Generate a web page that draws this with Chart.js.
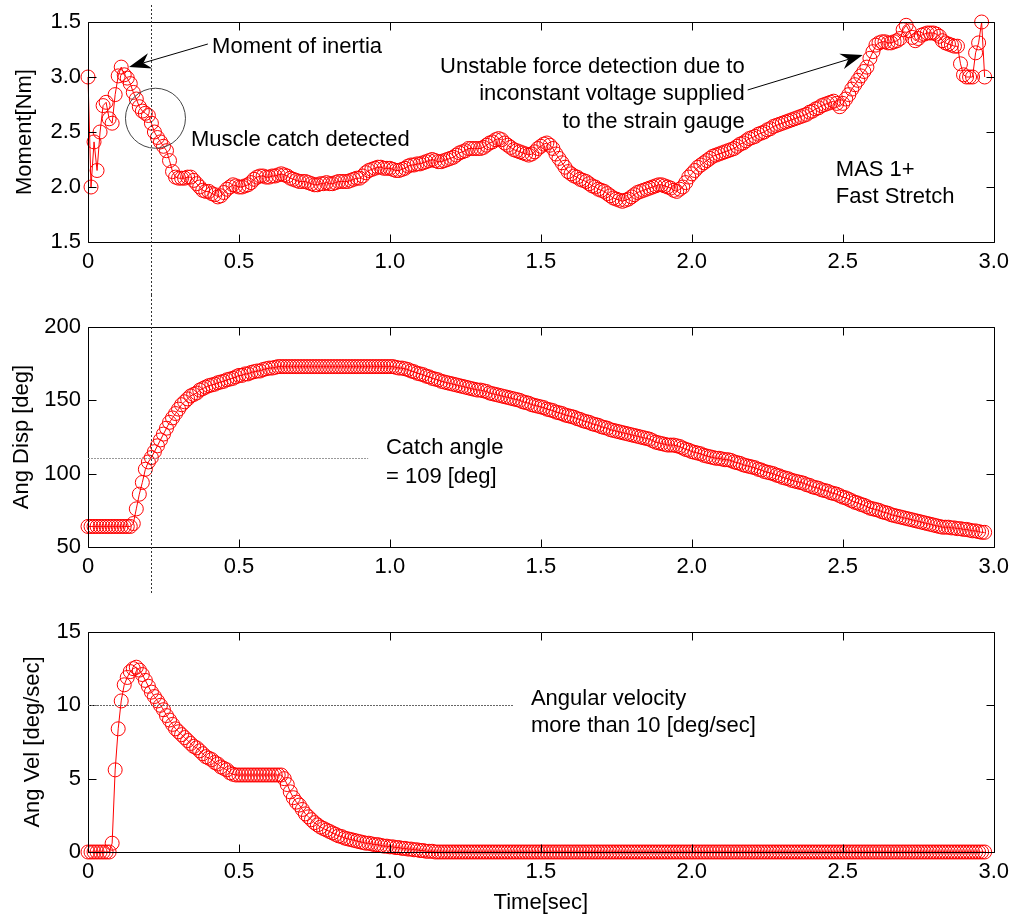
<!DOCTYPE html>
<html>
<head>
<meta charset="utf-8">
<script src="https://cdn.jsdelivr.net/npm/chart.js@4.4.0/dist/chart.umd.min.js"></script>
<style>
  body { margin: 0; background: #fff; }
  #wrap { position: relative; width: 1016px; height: 917px; }
  canvas { position: absolute; left: 0; }
</style>
</head>
<body>
<div id="wrap">
  <canvas id="plotMoment" width="1016" height="295" style="top:0"></canvas>
  <canvas id="plotDisp" width="1016" height="305" style="top:295px"></canvas>
  <canvas id="plotVel" width="1016" height="317" style="top:600px"></canvas>
</div>
<script>
// Datos
const sampleStep = 0.01; // intervalo de amostragem [sec]
const timeTicks = [0, 0.5, 1.0, 1.5, 2.0, 2.5, 3.0];
const momentTicks = [1.5, 2.0, 2.5, 3.0, 3.5];
const momentTickLabels = ['1.5', '2.0', '2.5', '3.0', '1.5']; // como impresso no original
const dispTicks = [50, 100, 150, 200];
const velTicks = [0, 5, 10, 15];

const moment = [
  3.00, 2.00, 2.41, 2.15, 2.50, 2.74, 2.77, 2.62, 2.58, 2.84,
  3.01, 3.09, 3.02, 2.99, 2.94, 2.86, 2.80, 2.73, 2.69, 2.67,
  2.65, 2.58, 2.50, 2.45, 2.41, 2.37, 2.33, 2.24, 2.14, 2.09,
  2.08, 2.08, 2.08, 2.09, 2.09, 2.06, 2.03, 2.00, 1.97, 1.96,
  1.96, 1.94, 1.93, 1.91, 1.92, 1.95, 1.98, 2.00, 2.02, 2.01,
  2.00, 2.00, 2.01, 2.02, 2.04, 2.07, 2.09, 2.10, 2.10, 2.09,
  2.09, 2.10, 2.10, 2.11, 2.12, 2.11, 2.10, 2.08, 2.07, 2.06,
  2.05, 2.05, 2.05, 2.04, 2.03, 2.02, 2.02, 2.03, 2.03, 2.04,
  2.03, 2.03, 2.04, 2.05, 2.05, 2.05, 2.05, 2.06, 2.07, 2.08,
  2.08, 2.10, 2.13, 2.15, 2.16, 2.17, 2.18, 2.18, 2.17, 2.17,
  2.17, 2.16, 2.15, 2.15, 2.16, 2.17, 2.19, 2.20, 2.20, 2.21,
  2.21, 2.22, 2.23, 2.24, 2.25, 2.24, 2.23, 2.23, 2.24, 2.25,
  2.26, 2.27, 2.29, 2.31, 2.32, 2.33, 2.35, 2.35, 2.35, 2.35,
  2.35, 2.36, 2.38, 2.40, 2.41, 2.43, 2.44, 2.43, 2.40, 2.38,
  2.36, 2.34, 2.33, 2.32, 2.31, 2.30, 2.29, 2.30, 2.32, 2.35,
  2.37, 2.39, 2.40, 2.38, 2.35, 2.30, 2.26, 2.22, 2.18, 2.14,
  2.12, 2.10, 2.09, 2.07, 2.06, 2.05, 2.03, 2.01, 2.00, 1.98,
  1.97, 1.96, 1.94, 1.92, 1.90, 1.89, 1.88, 1.87, 1.88, 1.89,
  1.91, 1.93, 1.95, 1.96, 1.97, 1.98, 1.99, 2.00, 2.01, 2.02,
  2.02, 2.01, 2.00, 1.99, 1.97, 1.96, 1.98, 2.00, 2.04, 2.09,
  2.12, 2.15, 2.18, 2.20, 2.22, 2.24, 2.26, 2.28, 2.29, 2.30,
  2.31, 2.32, 2.33, 2.34, 2.35, 2.37, 2.39, 2.40, 2.42, 2.44,
  2.45, 2.46, 2.48, 2.49, 2.50, 2.52, 2.53, 2.55, 2.56, 2.57,
  2.58, 2.59, 2.60, 2.61, 2.62, 2.63, 2.64, 2.65, 2.66, 2.68,
  2.69, 2.71, 2.72, 2.74, 2.75, 2.76, 2.77, 2.78, 2.76, 2.73,
  2.76, 2.80, 2.84, 2.89, 2.93, 2.97, 3.01, 3.05, 3.09, 3.17,
  3.23, 3.29, 3.31, 3.32, 3.32, 3.31, 3.31, 3.32, 3.33, 3.35,
  3.43, 3.47, 3.42, 3.36, 3.33, 3.35, 3.38, 3.39, 3.40, 3.40,
  3.40, 3.39, 3.37, 3.33, 3.31, 3.30, 3.29, 3.28, 3.28, 3.12,
  3.02, 3.00, 3.00, 3.00, 3.22, 3.31, 3.50, 3.00
];

const angDisp = [
  64, 64, 64, 64, 64, 64, 64, 64, 64, 64,
  64, 64, 64, 64, 64, 66, 76, 86, 94, 103,
  108, 111, 115, 119, 123, 127, 131, 135, 138, 141,
  144, 147, 149, 151, 153, 154, 155, 157, 158, 159,
  160, 160.5, 161, 162, 162.5, 163, 164, 164.5, 165, 166,
  167, 167, 168, 168, 169, 169.5, 170, 170, 171, 171.5,
  172, 172, 172.5, 173, 173, 173, 173, 173, 173, 173,
  173, 173, 173, 173, 173, 173, 173, 173, 173, 173,
  173, 173, 173, 173, 173, 173, 173, 173, 173, 173,
  173, 173, 173, 173, 173, 173, 173, 173, 173, 173,
  173, 173, 172.5, 172, 172, 171.5, 171, 170, 169.5, 168.5,
  168, 167.5, 166.5, 166, 165, 164.5, 164, 163, 162.5, 162,
  161.5, 161, 160.5, 160, 159.5, 159, 158.5, 158, 157.5, 157,
  157, 156.5, 156, 155, 154.5, 154, 153.5, 153, 152.5, 152,
  151.5, 151, 150.5, 150, 149, 148.5, 148, 147, 146.5, 146,
  145.5, 145, 144, 143.5, 143, 142, 141.5, 141, 140, 139.5,
  139, 138.5, 137.5, 137, 136, 135.5, 135, 134, 133.5, 133,
  132, 131.5, 131, 130, 129.5, 129, 128.5, 128, 127.5, 127,
  126.5, 126, 125.5, 125, 124.5, 124, 123.5, 122.5, 121.5, 121,
  120.5, 120, 119.5, 119.5, 119.5, 119, 118.5, 117.5, 116.5, 116,
  115, 114.5, 114, 113.5, 112.5, 112, 111.5, 111, 110.5, 110.5,
  110, 109.5, 109.5, 109, 108, 107.5, 107, 106, 105.5, 105,
  104.5, 104, 103, 102.5, 101.5, 101, 100.5, 100, 99, 98.5,
  97.5, 97, 96.5, 95.5, 95, 94.5, 94, 93.5, 92.5, 92,
  91, 90.5, 90, 89, 88.5, 88, 87, 86.5, 86, 85,
  84, 83.5, 82.5, 81.5, 80.5, 80, 79, 78.5, 77.5, 76.5,
  76, 75.5, 75, 74, 73.5, 73, 72, 71.5, 71, 70.5,
  70, 69.5, 69, 68.5, 68, 67.5, 67, 66.5, 66, 65.5,
  65, 64.5, 64, 63.5, 63.5, 63.5, 63, 63, 62.5, 62.5,
  62, 62, 61.5, 61, 61, 60.5, 60, 60
];

const angVel = [
  0, 0, 0, 0, 0, 0, 0, 0, 0.6, 5.6,
  8.4, 10.3, 11.4, 11.9, 12.3, 12.5, 12.6, 12.4, 12.1, 11.7,
  11.3, 10.9, 10.6, 10.3, 10.0, 9.7, 9.3, 9.0, 8.7, 8.4,
  8.2, 8.0, 7.8, 7.6, 7.4, 7.2, 7.1, 6.9, 6.7, 6.5,
  6.4, 6.3, 6.1, 6.0, 5.8, 5.7, 5.6, 5.4, 5.3, 5.25,
  5.25, 5.25, 5.25, 5.25, 5.25, 5.25, 5.25, 5.25, 5.25, 5.25,
  5.25, 5.25, 5.25, 5.25, 5.25, 5.0, 4.6, 4.1, 3.7, 3.4,
  3.2, 2.9, 2.6, 2.4, 2.2, 2.0, 1.85, 1.7, 1.6, 1.5,
  1.4, 1.3, 1.2, 1.1, 1.05, 0.95, 0.9, 0.85, 0.8, 0.75,
  0.7, 0.65, 0.6, 0.6, 0.55, 0.5, 0.5, 0.45, 0.4, 0.4,
  0.35, 0.35, 0.3, 0.3, 0.25, 0.25, 0.2, 0.2, 0.15, 0.15,
  0.1, 0.1, 0.05, 0.05, 0.05, 0, 0, 0, 0, 0,
  0, 0, 0, 0, 0, 0, 0, 0, 0, 0,
  0, 0, 0, 0, 0, 0, 0, 0, 0, 0,
  0, 0, 0, 0, 0, 0, 0, 0, 0, 0,
  0, 0, 0, 0, 0, 0, 0, 0, 0, 0,
  0, 0, 0, 0, 0, 0, 0, 0, 0, 0,
  0, 0, 0, 0, 0, 0, 0, 0, 0, 0,
  0, 0, 0, 0, 0, 0, 0, 0, 0, 0,
  0, 0, 0, 0, 0, 0, 0, 0, 0, 0,
  0, 0, 0, 0, 0, 0, 0, 0, 0, 0,
  0, 0, 0, 0, 0, 0, 0, 0, 0, 0,
  0, 0, 0, 0, 0, 0, 0, 0, 0, 0,
  0, 0, 0, 0, 0, 0, 0, 0, 0, 0,
  0, 0, 0, 0, 0, 0, 0, 0, 0, 0,
  0, 0, 0, 0, 0, 0, 0, 0, 0, 0,
  0, 0, 0, 0, 0, 0, 0, 0, 0, 0,
  0, 0, 0, 0, 0, 0, 0, 0, 0, 0,
  0, 0, 0, 0, 0, 0, 0, 0, 0, 0,
  0, 0, 0, 0, 0, 0, 0, 0
];

const time = moment.map((_, i) => +(i * sampleStep).toFixed(2));

const FAMILY = "'Liberation Sans', Arial, sans-serif";
const FONT = '22px ' + FAMILY;
Chart.defaults.font.family = FAMILY;
Chart.defaults.font.size = 22;
Chart.defaults.color = '#000';

// Caixa dos eixos com ticks para dentro (estilo MATLAB)
const axesBox = {
  id: 'axesBox',
  afterDatasetsDraw(chart) {
    const { ctx, chartArea: a, scales: { x, y } } = chart;
    const L = Math.round(a.left) + 0.5, R = Math.round(a.right) + 0.5;
    const T = Math.round(a.top) + 0.5, B = Math.round(a.bottom) + 0.5;
    ctx.save();
    ctx.strokeStyle = '#000';
    ctx.lineWidth = 1;
    ctx.beginPath();
    ctx.rect(L, T, R - L, B - T);
    x.ticks.forEach(t => {
      const p = Math.round(x.getPixelForValue(t.value)) + 0.5;
      ctx.moveTo(p, B); ctx.lineTo(p, B - 8);
      ctx.moveTo(p, T); ctx.lineTo(p, T + 8);
    });
    y.ticks.forEach(t => {
      const p = Math.round(y.getPixelForValue(t.value)) + 0.5;
      ctx.moveTo(L, p); ctx.lineTo(L + 8, p);
      ctx.moveTo(R, p); ctx.lineTo(R - 8, p);
    });
    ctx.stroke();
    ctx.restore();
  }
};

function drawArrow(ctx, x0, y0, x1, y1) {
  const ang = Math.atan2(y1 - y0, x1 - x0);
  const len = 22, half = 8, notch = 15;
  ctx.beginPath();
  ctx.moveTo(x0, y0);
  ctx.lineTo(x1 - Math.cos(ang) * notch, y1 - Math.sin(ang) * notch);
  ctx.stroke();
  ctx.save();
  ctx.translate(x1, y1);
  ctx.rotate(ang);
  ctx.beginPath();
  ctx.moveTo(0, 0);
  ctx.lineTo(-len, -half);
  ctx.lineTo(-notch, 0);
  ctx.lineTo(-len, half);
  ctx.closePath();
  ctx.fill();
  ctx.restore();
}

// Anotações (textos, setas, linhas de referência)
const notes = {
  id: 'notes',
  afterDraw(chart, args, opts) {
    const { ctx, scales: { x, y } } = chart;
    const px = v => x.getPixelForValue(v);
    const py = v => y.getPixelForValue(v);
    ctx.save();
    (opts.items || []).forEach(it => {
      ctx.setLineDash([]);
      ctx.lineWidth = 1;
      ctx.strokeStyle = '#000';
      ctx.fillStyle = '#000';
      if (it.type === 'vline') {
        const p = Math.round(px(it.x)) + 0.5;
        ctx.strokeStyle = '#333';
        ctx.setLineDash([2, 2]);
        ctx.beginPath(); ctx.moveTo(p, it.from); ctx.lineTo(p, it.to); ctx.stroke();
      } else if (it.type === 'hline') {
        const p = Math.round(py(it.y)) + 0.5;
        ctx.strokeStyle = it.color;
        ctx.setLineDash([2, 1]);
        ctx.beginPath(); ctx.moveTo(px(it.x0), p); ctx.lineTo(px(it.x1), p); ctx.stroke();
      } else if (it.type === 'ring') {
        ctx.strokeStyle = '#444';
        ctx.beginPath(); ctx.arc(px(it.x), py(it.y), it.r, 0, Math.PI * 2); ctx.stroke();
      } else if (it.type === 'arrow') {
        drawArrow(ctx, px(it.from[0]), py(it.from[1]), px(it.to[0]), py(it.to[1]));
      } else if (it.type === 'text') {
        ctx.font = FONT;
        ctx.textAlign = it.align || 'left';
        ctx.textBaseline = 'middle';
        it.lines.forEach((s, i) => ctx.fillText(s, px(it.x), py(it.y) + i * (it.gap || 27)));
      }
    });
    ctx.restore();
  }
};

function makePlot(id, values, o) {
  const ctx = document.getElementById(id).getContext('2d');
  return new Chart(ctx, {
    type: 'line',
    data: {
      datasets: [{
        data: time.map((t, i) => ({ x: t, y: values[i] })),
        borderColor: '#ff0000',
        borderWidth: 1,
        pointRadius: 7,
        pointBorderColor: '#ff0000',
        pointBackgroundColor: 'rgba(0,0,0,0)',
        pointBorderWidth: 1,
        fill: false,
        tension: 0,
        clip: false
      }]
    },
    options: {
      responsive: false,
      animation: false,
      events: [],
      layout: { padding: { left: 0, right: 22, top: o.padTop, bottom: 0 } },
      plugins: {
        legend: { display: false },
        tooltip: { enabled: false },
        notes: { items: o.notes }
      },
      scales: {
        x: {
          type: 'linear',
          min: 0, max: 3,
          grid: { display: false, drawTicks: false },
          border: { display: false },
          afterBuildTicks: s => { s.ticks = timeTicks.map(v => ({ value: v })); },
          afterFit: s => { s.height = o.xHeight; },
          ticks: { padding: 7, maxRotation: 0, callback: v => v === 0 ? '0' : v.toFixed(1) },
          title: { display: !!o.xTitle, text: o.xTitle, padding: { top: 0, bottom: 1 } }
        },
        y: {
          min: o.yTicks[0], max: o.yTicks[o.yTicks.length - 1],
          grid: { display: false, drawTicks: false },
          border: { display: false },
          afterBuildTicks: s => { s.ticks = o.yTicks.map(v => ({ value: v })); },
          afterFit: s => { s.width = 88; },
          ticks: { padding: 7, callback: o.yLabel },
          title: { display: true, text: o.yTitle, padding: { top: o.yTitlePad, bottom: 0 } }
        }
      }
    },
    plugins: [axesBox, notes]
  });
}

makePlot('plotMoment', moment, {
  padTop: 22, xHeight: 53,
  yTicks: momentTicks,
  yLabel: (v, i) => momentTickLabels[i],
  yTitle: 'Moment[Nm]', yTitlePad: 12,
  notes: [
    { type: 'vline', x: 0.21, from: 5, to: 295 },
    { type: 'ring', x: 0.2235, y: 2.625, r: 30 },
    { type: 'arrow', from: [0.397, 3.30], to: [0.136, 3.09] },
    { type: 'text', x: 0.411, y: 3.275, lines: ['Moment of inertia'] },
    { type: 'text', x: 0.341, y: 2.427, lines: ['Muscle catch detected'] },
    { type: 'text', x: 2.175, y: 3.094, align: 'right', gap: 27.5,
      lines: ['Unstable force detection due to', 'inconstant voltage supplied', 'to the strain gauge'] },
    { type: 'arrow', from: [2.185, 2.882], to: [2.566, 3.20] },
    { type: 'text', x: 2.477, y: 2.155, gap: 26.7, lines: ['MAS 1+', 'Fast Stretch'] }
  ]
});

makePlot('plotDisp', angDisp, {
  padTop: 32, xHeight: 53,
  yTicks: dispTicks,
  yLabel: v => String(v),
  yTitle: 'Ang Disp [deg]', yTitlePad: 9,
  notes: [
    { type: 'vline', x: 0.21, from: 0, to: 298 },
    { type: 'hline', y: 110.5, x0: 0, x1: 0.928, color: '#999' },
    { type: 'text', x: 0.987, y: 117.5, gap: 28.7, lines: ['Catch angle', '= 109 [deg]'] }
  ]
});

makePlot('plotVel', angVel, {
  padTop: 32, xHeight: 65, xTitle: 'Time[sec]',
  yTicks: velTicks,
  yLabel: v => String(v),
  yTitle: 'Ang Vel [deg/sec]', yTitlePad: 20,
  notes: [
    { type: 'hline', y: 10, x0: 0, x1: 1.41, color: '#666' },
    { type: 'text', x: 1.467, y: 10.43, gap: 27, lines: ['Angular velocity', 'more than 10 [deg/sec]'] }
  ]
});
</script>
</body>
</html>
